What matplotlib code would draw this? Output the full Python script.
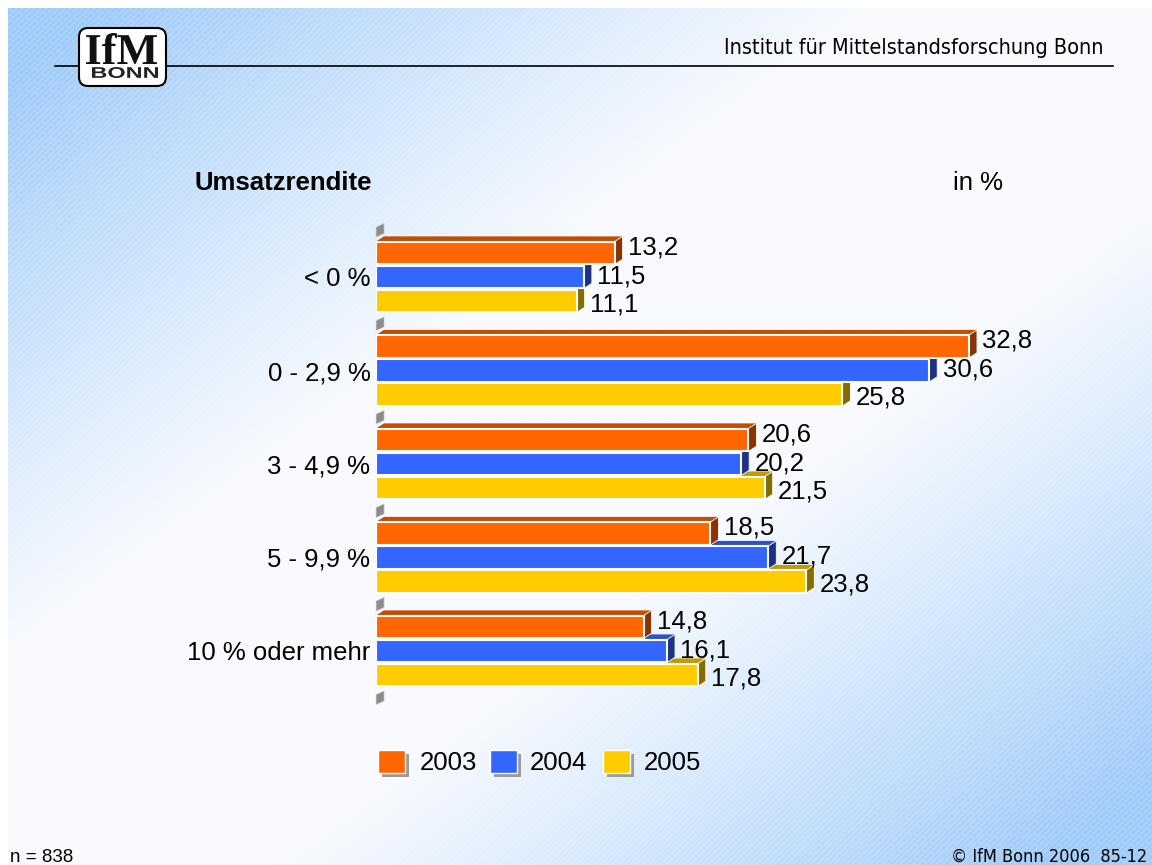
import numpy as np
import matplotlib
matplotlib.use("Agg")
import matplotlib.pyplot as plt
from matplotlib.patches import Polygon, Rectangle, FancyBboxPatch, PathPatch
from matplotlib.lines import Line2D
from matplotlib.textpath import TextPath
from matplotlib.font_manager import FontProperties
from matplotlib.transforms import IdentityTransform, Affine2D

# ---------------- data ----------------
categories = ["< 0 %", "0 - 2,9 %", "3 - 4,9 %", "5 - 9,9 %", "10 % oder mehr"]
years = ["2003", "2004", "2005"]
v2003 = [13.2, 32.8, 20.6, 18.5, 14.8]
v2004 = [11.5, 30.6, 20.2, 21.7, 16.1]
v2005 = [11.1, 25.8, 21.5, 23.8, 17.8]
series = [v2003, v2004, v2005]

title = "Umsatzrendite"
unit = "in %"
header = "Institut für Mittelstandsforschung Bonn"
footer_left = "n = 838"
footer_right = "© IfM Bonn 2006  85-12"

# ---------------- style ----------------
front_c = ["#FF6600", "#3366FF", "#FFCC00"]
top_c = ["#C24E00", "#2B52C8", "#C29B00"]
side_c = ["#8A3300", "#1C3385", "#866B00"]
FONT = "Liberation Sans"
TAHOMA = "DejaVu Sans"
FS = 18.5

W, H = 1152, 865
fig = plt.figure(figsize=(W / 100, H / 100), dpi=100)
fig.patch.set_facecolor("white")

# ---------------- background gradient (pixel grid) ----------------
m = 8
px, py = np.meshgrid(np.arange(W), np.arange(H))
u = px / W
v_ = py / H
d = np.abs(u + v_ - 1.0)
g = np.clip((d - 0.22) / 0.68, 0, 1) ** 1.1
# faint white diagonal hatch lines
hatch = ((px + py) % 6 == 0).astype(float) * 0.25
white = np.array([0.975, 0.983, 0.998])
blue = np.array([0.62, 0.80, 0.985])
img = white[None, None, :] * (1 - g[..., None]) + blue[None, None, :] * g[..., None]
img = img * (1 - hatch[..., None]) + hatch[..., None] * 1.0
img[:m, :, :] = 1.0
img[:, :m, :] = 1.0
fig.figimage(np.clip(img, 0, 1), xo=0, yo=0, origin="upper", zorder=-10)

# ---------------- main axes ----------------
x_left = 376
px_per_unit = 18.08
xmax = 40
ax_w = xmax * px_per_unit
y_top, y_bot = 230.25, 697.75
ax = fig.add_axes([x_left / W, 1 - y_bot / H, ax_w / W, (y_bot - y_top) / H])
ax.set_facecolor("none")
ax.set_xlim(0, xmax)
ax.set_ylim(len(categories) - 0.5, -0.5)
for s in ax.spines.values():
    s.set_visible(False)
ax.set_xticks([])
ax.set_yticks(range(len(categories)))
ax.set_yticklabels(categories, fontsize=FS, family=FONT)
ax.tick_params(axis="y", length=0, pad=4)

h = 0.245
step = 0.257
dx = 0.44
dy = 0.055
label_off = [-0.06, -0.01, 0.035]

for i in range(len(categories)):
    for j in [2, 1, 0]:
        v = series[j][i]
        yc = i + (j - 1) * step
        top = yc - h / 2
        bot = yc + h / 2
        z = 3 + (2 - j)
        ax.add_patch(Polygon([(0, top), (v, top), (v + dx, top - dy), (dx, top - dy)],
                             closed=True, facecolor=top_c[j], edgecolor="none", zorder=z))
        ax.add_patch(Polygon([(v, top), (v + dx, top - dy), (v + dx, bot - dy), (v, bot)],
                             closed=True, facecolor=side_c[j], edgecolor="white", lw=0.6, zorder=z))
        ax.barh(yc, v, height=h, color=front_c[j], edgecolor="white", lw=1.5, zorder=z + 0.1)
        ax.text(v + dx + 0.3, yc + label_off[j], f"{v:.1f}".replace(".", ","),
                fontsize=FS, family=FONT, ha="left", va="center", zorder=10)

# gray 3D tick marks at group boundaries
for b in np.arange(-0.5, len(categories), 1.0):
    ax.add_patch(Polygon([(0, b + 0.075), (0, b - 0.035), (0.45, b - 0.075), (0.45, b + 0.035)],
                         closed=True, facecolor="#8C8C8C", edgecolor="#E0E0E0", lw=0.5,
                         zorder=6, clip_on=False))

# ---------------- texts ----------------
def fx(x):
    return x / W

def fy(y):
    return 1 - y / H

fig.text(fx(195), fy(183), title, fontsize=FS, fontweight="bold", family=FONT, ha="left", va="center")
fig.text(fx(953), fy(183), unit, fontsize=FS, family=FONT, ha="left", va="center")

fig.text(fx(1103), fy(48), header, fontsize=15.5, family=TAHOMA, ha="right", va="center",
         fontstretch="condensed")
fig.add_artist(Line2D([fx(55), fx(1113)], [fy(66), fy(66)], color="black", lw=1.2))

fig.text(fx(10), fy(857), footer_left, fontsize=13.5, family=FONT, ha="left", va="center")
fig.text(fx(1147), fy(857), footer_right, fontsize=13, family=TAHOMA, ha="right", va="center",
         fontstretch="condensed")

# ---------------- logo ----------------
idt = IdentityTransform()
logo = FancyBboxPatch((79, H - 86), 87, 58, boxstyle="round,pad=0,rounding_size=9",
                      facecolor="white", edgecolor="black", lw=1.5, transform=idt, zorder=5)
fig.add_artist(logo)


def fitted_text(s, x0, x1, ytop, ybot, prop, color):
    tp = TextPath((0, 0), s, size=40, prop=prop)
    ext = tp.get_extents()
    sx = (x1 - x0) / ext.width
    sy = (ybot - ytop) / ext.height
    tr = Affine2D().translate(-ext.x0, -ext.y0).scale(sx, sy).translate(x0, H - ybot) + idt
    p = PathPatch(tp, facecolor=color, edgecolor="none", transform=tr, zorder=6)
    fig.add_artist(p)


fitted_text("IfM", 86, 157, 33, 64, FontProperties(family="Liberation Serif", weight="bold"), "#111111")
fitted_text("BONN", 92, 158, 67, 78, FontProperties(family="Liberation Sans", weight="bold"), "#222222")

# ---------------- legend ----------------
leg_x = [378, 490, 603]
leg_tx = [420, 530, 644]
for j in range(3):
    fig.add_artist(Rectangle((leg_x[j] + 4, H - 777), 27, 23, facecolor="#9A9A9A",
                             edgecolor="none", transform=idt, zorder=5))
    fig.add_artist(Rectangle((leg_x[j], H - 773), 27, 23, facecolor=front_c[j],
                             edgecolor="white", lw=1, transform=idt, zorder=6))
    fig.text(fx(leg_tx[j]), fy(763), years[j], fontsize=FS, family=FONT, ha="left", va="center")

fig.savefig("out.png", dpi=100)
